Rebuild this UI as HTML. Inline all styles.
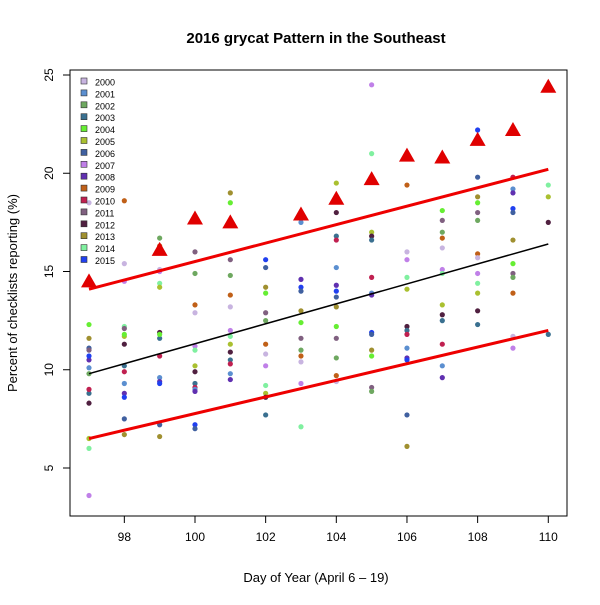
<!DOCTYPE html><html><head><style>body{margin:0;background:#fff}svg{font-family:"Liberation Sans",Arial,sans-serif}</style></head><body>
<svg id="s" width="600" height="600" xmlns="http://www.w3.org/2000/svg">
<rect width="600" height="600" fill="#fff"/>
<text x="316" y="43" font-size="15" font-weight="bold" text-anchor="middle">2016 grycat Pattern in the Southeast</text>
<text x="316" y="582" font-size="13" text-anchor="middle">Day of Year (April 6 – 19)</text>
<text transform="translate(17,293) rotate(-90)" font-size="13" text-anchor="middle">Percent of checklists reporting (%)</text>
<rect x="70" y="70" width="497" height="446" fill="none" stroke="#000" stroke-width="1"/>
<g id="g"></g>
</svg>
<script>
const g=document.getElementById('g');const NS='http://www.w3.org/2000/svg';
const X=d=>89+(d-97)*35.33, Y=v=>75+(25-v)*19.65;
function el(t,a,txt){const e=document.createElementNS(NS,t);for(const k in a)e.setAttribute(k,a[k]);if(txt)e.textContent=txt;g.appendChild(e);return e;}
for(let d=98;d<=110;d+=2){el('line',{x1:X(d),x2:X(d),y1:516,y2:523,stroke:'#000'});el('text',{x:X(d),y:541,'font-size':12,'text-anchor':'middle'},d);}
for(let v=5;v<=25;v+=5){el('line',{x1:63,x2:70,y1:Y(v),y2:Y(v),stroke:'#000'});el('text',{transform:`translate(${53},${Y(v)}) rotate(-90)`,'font-size':12,'text-anchor':'middle'},v);}
const C=['#c8b4e0','#5b8fd0','#6ea860','#3a7090','#66ee33','#aac030','#4060a0','#c080e8','#6030b0','#c06018','#c02050','#806080','#502040','#a09030','#80f0a0','#2040f0'];
const D={97:[18.5,3.6,6.0,6.5,8.3,8.8,9.0,10.1,10.5,10.7,11.1,11.6,12.3,11.0,9.8],
98:[18.6,15.4,14.5,12.2,11.7,11.3,10.2,9.9,9.3,8.8,8.6,7.5,6.7,11.8,12.1],
99:[16.7,16.3,15.1,15.0,14.4,14.2,11.9,11.6,10.7,9.6,9.4,9.3,7.2,6.6,11.8],
100:[16.0,14.9,13.3,12.9,11.2,11.0,10.2,9.9,9.3,9.1,9.0,8.9,7.2,7.0],
101:[19.0,18.5,15.6,14.8,13.8,13.2,12.0,11.7,11.3,10.9,10.5,10.3,9.8,9.5],
102:[15.6,15.2,14.2,13.9,12.9,12.5,11.3,10.8,10.2,9.2,8.8,8.6,7.7],
103:[18.0,17.5,14.6,14.2,14.0,13.0,12.4,11.6,11.0,10.7,10.4,9.3,7.1],
104:[19.5,18.0,16.8,16.6,15.2,14.3,14.0,13.7,13.2,12.2,11.6,10.6,9.7,9.4],
105:[24.5,21.0,17.0,16.8,16.6,14.7,13.9,13.8,11.9,11.8,11.0,10.7,9.1,8.9],
106:[19.4,16.0,15.6,14.7,14.1,12.2,12.0,11.8,11.1,10.6,10.5,7.7,6.1],
107:[18.1,17.6,17.0,16.7,16.2,15.1,14.9,13.3,12.8,12.5,11.3,10.2,9.6],
108:[22.2,19.8,18.8,18.5,18.0,17.6,15.9,15.7,14.9,14.4,13.9,13.0,12.3],
109:[19.8,19.2,19.0,18.2,18.0,16.6,15.4,14.9,14.7,13.9,11.7,11.1],
110:[19.4,18.8,17.5,11.8]};
let k=0;for(const d in D){D[d].forEach(v=>{el('circle',{cx:X(+d),cy:Y(v),r:2.6,fill:C[(k*7)%16]});k++;});}
// legend
for(let i=0;i<16;i++){const y=82+i*11.9;el('rect',{x:81,y:y-4,width:6,height:6,fill:C[i],stroke:'#333','stroke-width':0.6});el('text',{x:95,y:y+3.5,'font-size':9},2000+i);}
el('line',{x1:X(97),y1:Y(9.8),x2:X(110),y2:Y(16.4),stroke:'#000','stroke-width':1.5});
el('line',{x1:X(97),y1:Y(14.1),x2:X(110),y2:Y(20.2),stroke:'#e00','stroke-width':3});
el('line',{x1:X(97),y1:Y(6.5),x2:X(110),y2:Y(12.0),stroke:'#e00','stroke-width':3});
const T={97:14.5,99:16.1,100:17.7,101:17.5,103:17.9,104:18.7,105:19.7,106:20.9,107:20.8,108:21.7,109:22.2,110:24.4};
for(const d in T){const x=X(+d),y=Y(T[d]);el('polygon',{points:`${x-8},${y+6} ${x+8},${y+6} ${x},${y-8}`,fill:'#e00000'});}
</script>
</body></html>
